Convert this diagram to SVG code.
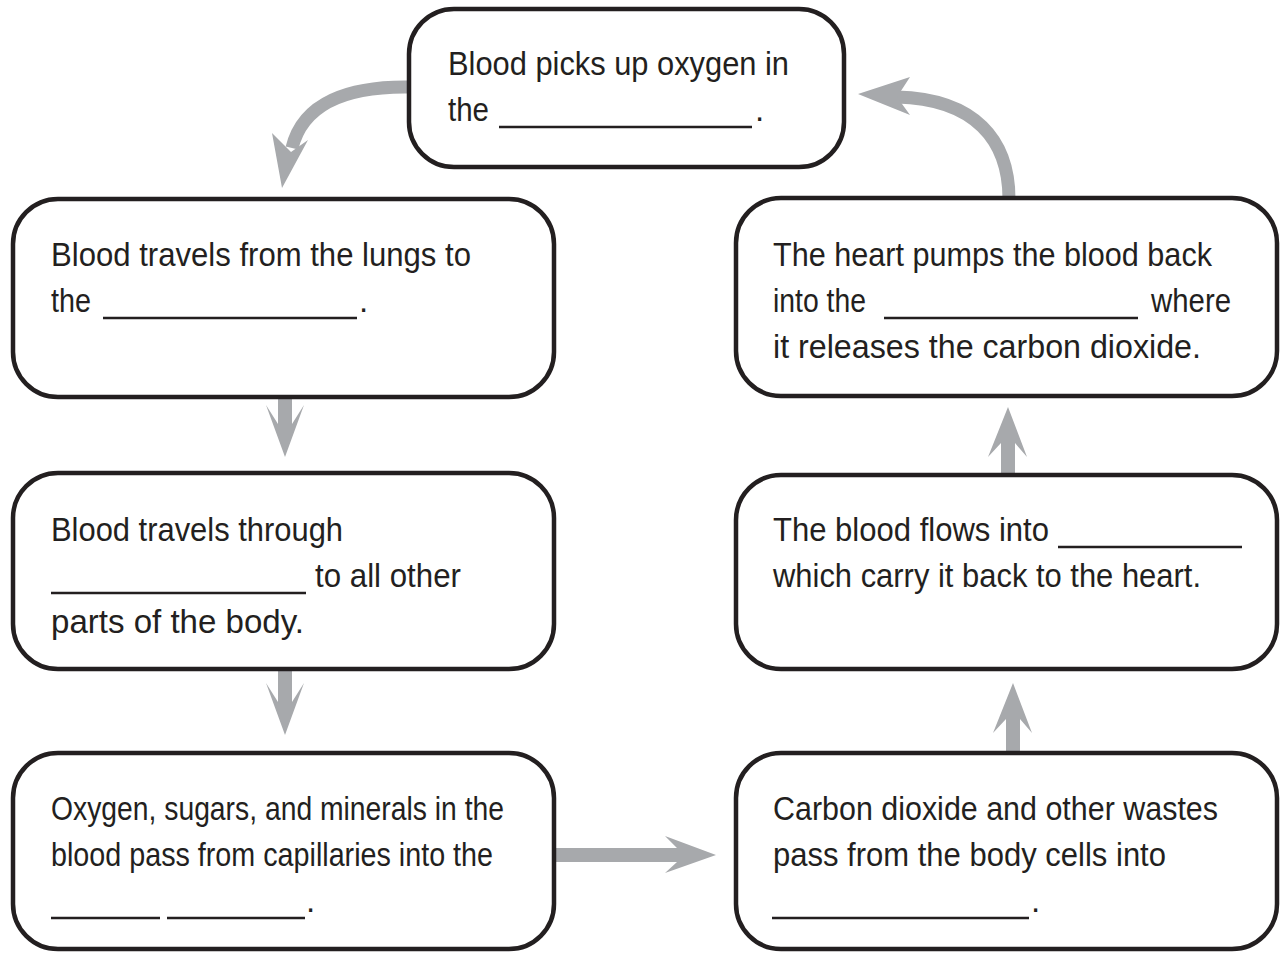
<svg xmlns="http://www.w3.org/2000/svg" width="1283" height="953" viewBox="0 0 1283 953">
<style>
.box{fill:#fff;stroke:#231f20;stroke-width:4.5}
.t{font-family:"Liberation Sans",Arial,sans-serif;font-size:33px;fill:#231f20}
.bl{stroke:#231f20;stroke-width:2.6}
.ar{fill:#a7a9ac}
.sh{fill:none;stroke:#a7a9ac;stroke-width:13}
</style>
<rect width="1283" height="953" fill="#fff"/>
<g id="connectors">
<path class="sh" d="M410,87 C350,86 303,102 292,148"/>
<polygon class="ar" points="272,133 282,188 308,140 291,152"/>
<path class="sh" d="M1009,199 C1009,140 975,99 897,97"/>
<polygon class="ar" points="858,94 910,77 897,97 910,115"/>
<polygon class="ar" points="278,398 278,424 266,405 285,457 304,405 292,424 292,398"/>
<polygon class="ar" points="278,670 278,702 266,683 285,735 304,683 292,702 292,670"/>
<polygon class="ar" points="555,848 677,848 665,836 716,855 665,873 677,862 555,862"/>
<polygon class="ar" points="1001,474 1001,443 988,457 1008,407 1027,457 1015,443 1015,474"/>
<polygon class="ar" points="1006,752 1006,719 993,733 1013,683 1032,733 1020,719 1020,752"/>
</g>
<g id="n-top">
<rect class="box" x="409" y="9" width="435" height="158" rx="45"/>
<text class="t" x="448" y="75" textLength="341" lengthAdjust="spacingAndGlyphs">Blood picks up oxygen in</text>
<text class="t" x="448" y="121" textLength="41" lengthAdjust="spacingAndGlyphs">the</text>
<line class="bl" x1="499" y1="127" x2="752" y2="127"/>
<text class="t" x="755" y="121">.</text>
</g>
<g id="n-left1">
<rect class="box" x="13" y="199" width="541" height="198" rx="45"/>
<text class="t" x="51" y="266" textLength="420" lengthAdjust="spacingAndGlyphs">Blood travels from the lungs to</text>
<text class="t" x="51" y="312" textLength="40" lengthAdjust="spacingAndGlyphs">the</text>
<line class="bl" x1="103" y1="318" x2="357" y2="318"/>
<text class="t" x="359" y="312">.</text>
</g>
<g id="n-left2">
<rect class="box" x="13" y="473" width="541" height="196" rx="45"/>
<text class="t" x="51" y="541" textLength="292" lengthAdjust="spacingAndGlyphs">Blood travels through</text>
<line class="bl" x1="51" y1="593" x2="306" y2="593"/>
<text class="t" x="315" y="587" textLength="146" lengthAdjust="spacingAndGlyphs">to all other</text>
<text class="t" x="51" y="633" textLength="253" lengthAdjust="spacingAndGlyphs">parts of the body.</text>
</g>
<g id="n-left3">
<rect class="box" x="13" y="753" width="541" height="196" rx="45"/>
<text class="t" x="51" y="820" textLength="453" lengthAdjust="spacingAndGlyphs">Oxygen, sugars, and minerals in the</text>
<text class="t" x="51" y="866" textLength="442" lengthAdjust="spacingAndGlyphs">blood pass from capillaries into the</text>
<line class="bl" x1="51" y1="918" x2="160" y2="918"/>
<line class="bl" x1="167" y1="918" x2="305" y2="918"/>
<text class="t" x="306" y="912">.</text>
</g>
<g id="n-right1">
<rect class="box" x="736" y="198" width="541" height="198" rx="45"/>
<text class="t" x="773" y="266" textLength="439" lengthAdjust="spacingAndGlyphs">The heart pumps the blood back</text>
<text class="t" x="773" y="312" textLength="93" lengthAdjust="spacingAndGlyphs">into the</text>
<line class="bl" x1="884" y1="318" x2="1138" y2="318"/>
<text class="t" x="1151" y="312" textLength="80" lengthAdjust="spacingAndGlyphs">where</text>
<text class="t" x="773" y="358" textLength="428" lengthAdjust="spacingAndGlyphs">it releases the carbon dioxide.</text>
</g>
<g id="n-right2">
<rect class="box" x="736" y="475" width="541" height="194" rx="45"/>
<text class="t" x="773" y="541" textLength="276" lengthAdjust="spacingAndGlyphs">The blood flows into</text>
<line class="bl" x1="1058" y1="547" x2="1242" y2="547"/>
<text class="t" x="773" y="587" textLength="428" lengthAdjust="spacingAndGlyphs">which carry it back to the heart.</text>
</g>
<g id="n-right3">
<rect class="box" x="736" y="753" width="541" height="196" rx="45"/>
<text class="t" x="773" y="820" textLength="445" lengthAdjust="spacingAndGlyphs">Carbon dioxide and other wastes</text>
<text class="t" x="773" y="866" textLength="393" lengthAdjust="spacingAndGlyphs">pass from the body cells into</text>
<line class="bl" x1="772" y1="918" x2="1029" y2="918"/>
<text class="t" x="1031" y="912">.</text>
</g>
</svg>
